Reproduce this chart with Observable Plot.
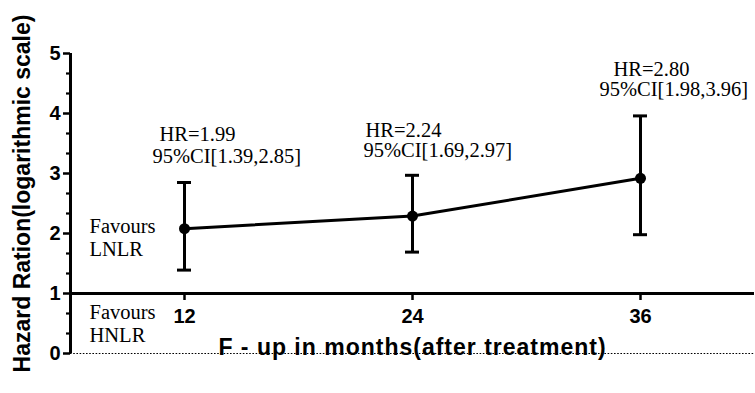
<!DOCTYPE html>
<html><head><meta charset="utf-8">
<script src="https://cdn.jsdelivr.net/npm/d3@7"></script>
<script src="https://cdn.jsdelivr.net/npm/@observablehq/plot@0.6"></script>
<style>body{margin:0;background:#fff}</style>
</head><body><div id="chart"></div>
<script>
// ---- data ----
const months = [12, 24, 36];
const hrPoint = [2.08, 2.29, 2.92];
const ciLow = [1.39, 1.69, 1.98];
const ciHigh = [2.85, 2.97, 3.96];
const hrLabels = ["HR=1.99", "HR=2.24", "HR=2.80"];
const ciLabels = ["95%CI[1.39,2.85]", "95%CI[1.69,2.97]", "95%CI[1.98,3.96]"];
const yTicks = [0, 1, 2, 3, 4, 5];
const xTickLabels = ["12", "24", "36"];
const favourLabels = ["Favours\nLNLR", "Favours\nHNLR"];
const yLabel = "Hazard Ration(logarithmic scale)";
const xLabel = "F - up in months(after treatment)";

// ---- derived ----
const rows = months.map((m, i) => ({month: m, hr: hrPoint[i], lo: ciLow[i], hi: ciHigh[i], hrText: hrLabels[i], ciText: ciLabels[i]}));
const minorTicks = d3.range(0, 16).map(i => i / 3).filter(v => !yTicks.some(t => Math.abs(t - v) < 1e-9));

// ---- layout (pixel offsets for annotations) ----
const labelOffsets = [
  {hrDx: -25, hrDy: -48, ciDx: -32, ciDy: -26},
  {hrDx: -47, hrDy: -45, ciDx: -49, ciDy: -25},
  {hrDx: -27, hrDy: -46, ciDx: -41, ciDy: -26}
];
const SANS = "'Liberation Sans', Arial, sans-serif";
const SERIF = "'Liberation Serif', 'Times New Roman', serif";
const xDomain = [6, 42];

const annotationMarks = rows.flatMap((d, i) => [
  Plot.text([d], {x: "month", y: "hi", text: "hrText", textAnchor: "start", lineAnchor: "middle",
    dx: labelOffsets[i].hrDx, dy: labelOffsets[i].hrDy, fontSize: 20.5, fontFamily: SERIF}),
  Plot.text([d], {x: "month", y: "hi", text: "ciText", textAnchor: "start", lineAnchor: "middle",
    dx: labelOffsets[i].ciDx, dy: labelOffsets[i].ciDy, fontSize: 20.5, fontFamily: SERIF})
]);

const chart = Plot.plot({
  width: 755,
  height: 393,
  marginTop: 53,
  marginBottom: 40,
  marginLeft: 70,
  marginRight: 1,
  style: {background: "#fff", color: "#000"},
  x: {domain: xDomain, axis: null},
  y: {domain: [0, 5], axis: null},
  marks: [
    // dotted baseline at 0
    Plot.ruleY([0], {strokeDasharray: "1.6,1.6", strokeWidth: 1}),
    // x axis line at HR = 1
    Plot.ruleY([1], {strokeWidth: 3}),
    // y axis line
    Plot.ruleX([xDomain[0]], {y1: 0, y2: 5, strokeWidth: 3}),
    // y ticks
    Plot.axisY({ticks: yTicks, tickFormat: d => String(d), anchor: "left", tickSize: 7, tickPadding: 3, strokeWidth: 2.5,
      fontSize: 20, fontWeight: "bold", fontFamily: SANS, label: null}),
    Plot.axisY({ticks: minorTicks, anchor: "left", tickSize: 4, strokeWidth: 2.2, fill: "none", label: null}),
    // x ticks (downward from the HR = 1 line)
    Plot.ruleX(months, {x: d => d, y1: () => 1, y2: () => 1, insetBottom: -7, strokeWidth: 2.5}),
    Plot.text(months, {x: d => d, y: () => 1, text: (d, i) => xTickLabels[i], dy: 23, lineAnchor: "middle",
      fontSize: 20, fontWeight: "bold", fontFamily: SANS}),
    // favours labels
    Plot.text([favourLabels[0]], {y: () => 1, frameAnchor: "left", textAnchor: "start", lineAnchor: "middle",
      dx: 19, dy: -56, lineHeight: 1.1, fontSize: 20.5, fontFamily: SERIF}),
    Plot.text([favourLabels[1]], {y: () => 1, frameAnchor: "left", textAnchor: "start", lineAnchor: "middle",
      dx: 19, dy: 30, lineHeight: 1.1, fontSize: 20.5, fontFamily: SERIF}),
    // error bars
    Plot.ruleX(rows, {x: "month", y1: "lo", y2: "hi", strokeWidth: 3}),
    Plot.ruleY(rows, {y: "hi", x1: "month", x2: "month", insetLeft: -7, insetRight: -7, strokeWidth: 3}),
    Plot.ruleY(rows, {y: "lo", x1: "month", x2: "month", insetLeft: -7, insetRight: -7, strokeWidth: 3}),
    // line + points
    Plot.line(rows, {x: "month", y: "hr", strokeWidth: 3}),
    Plot.dot(rows, {x: "month", y: "hr", r: 5.5, fill: "#000", stroke: "none"}),
    ...annotationMarks,
    // axis titles
    Plot.text([xLabel], {frameAnchor: "bottom", textAnchor: "middle", lineAnchor: "middle", dy: -6, fontSize: 23, fontWeight: "bold", fontFamily: SANS}),
    Plot.text([yLabel], {frameAnchor: "left", textAnchor: "middle", rotate: -90, lineAnchor: "middle", dx: -48, dy: -10, fontSize: 23, fontWeight: "bold", fontFamily: SANS})
  ]
});
d3.select(chart).selectAll("text").filter(function() { return this.textContent === xLabel; }).attr("letter-spacing", 1);
document.getElementById("chart").appendChild(chart);
</script>
</body></html>
